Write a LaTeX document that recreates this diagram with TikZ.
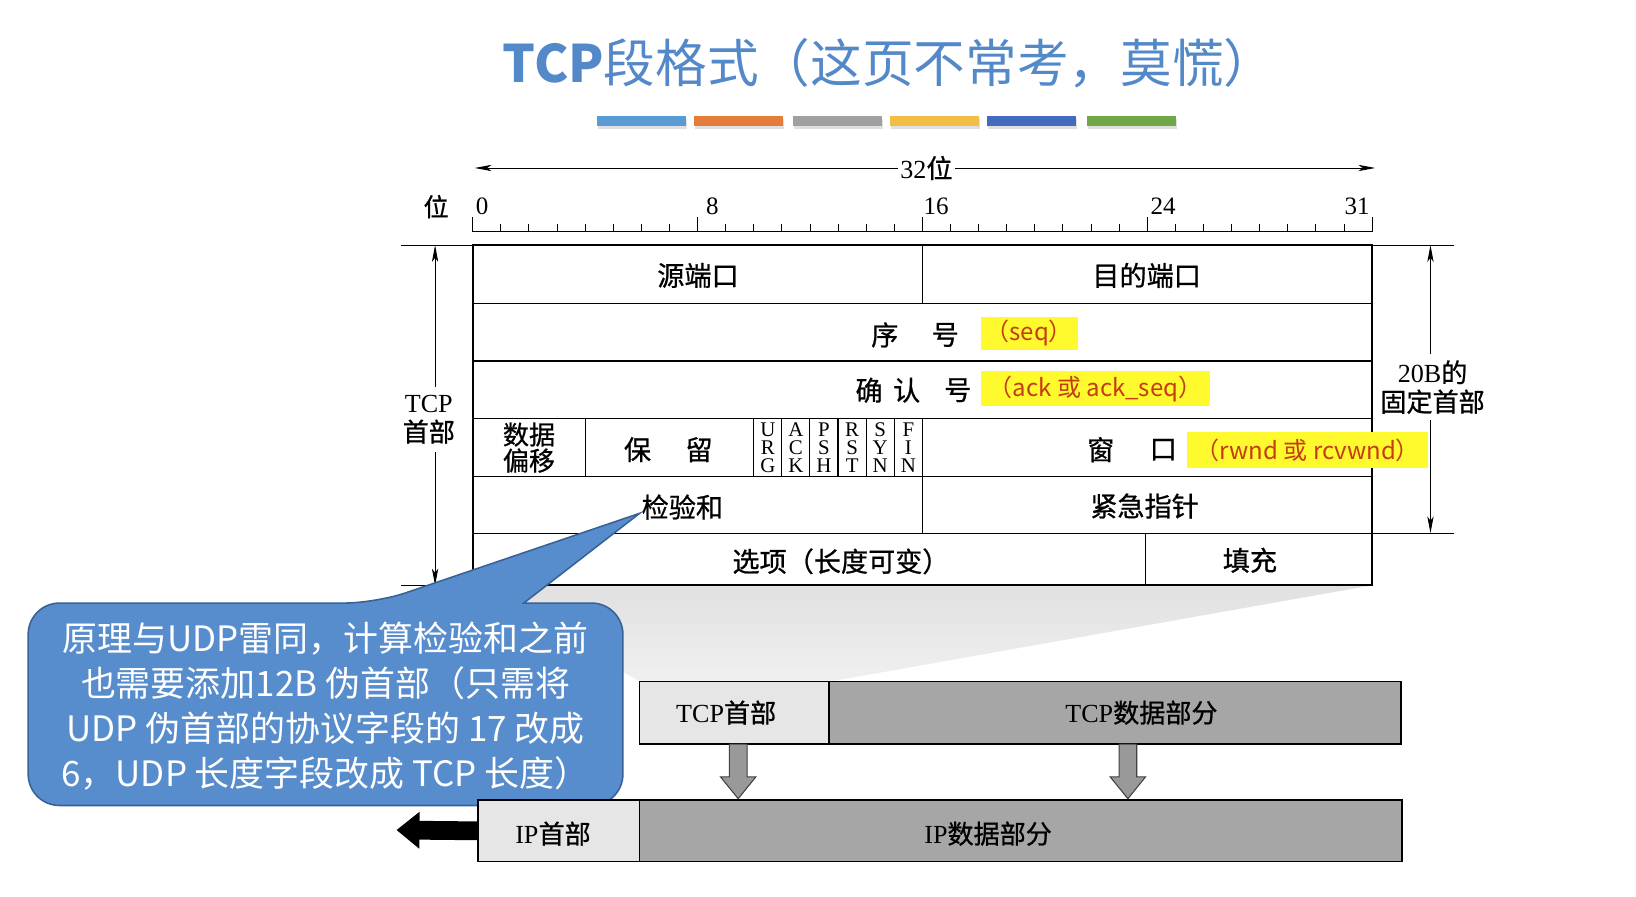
\documentclass[tikz,border=0pt]{standalone}
\usepackage{fontspec}
\setmainfont{Liberation Serif}
\newfontfamily\cjk{Noto Sans CJK SC}
\newfontfamily\cjkt{Noto Sans CJK SC}[FakeBold=0.8]
\usetikzlibrary{arrows.meta,calc}
\definecolor{titleblue}{RGB}{84,137,201}
\definecolor{callfill}{RGB}{88,141,205}
\definecolor{calldraw}{RGB}{56,98,150}
\definecolor{hlyellow}{RGB}{255,250,45}
\definecolor{hlred}{RGB}{196,60,20}
\definecolor{cellL}{RGB}{230,230,230}
\definecolor{cellD}{RGB}{166,166,166}
\definecolor{barA}{RGB}{91,155,213}
\definecolor{barB}{RGB}{229,124,58}
\definecolor{barC}{RGB}{160,160,160}
\definecolor{barD}{RGB}{242,190,69}
\definecolor{barE}{RGB}{68,108,190}
\definecolor{barF}{RGB}{112,168,72}
\newcommand\zh[1]{{\cjkt #1}}
\tikzset{
  tbl/.style={line width=1.1pt},
  outerbox/.style={line width=1.8pt},
  cj/.style={font=\cjkt\fontsize{26}{28}\selectfont, inner sep=0pt},
  lat/.style={font=\fontsize{24}{26}\selectfont, inner sep=0pt},
  flag/.style={font=\fontsize{20}{17.5}\selectfont, align=center, inner sep=0pt},
  hl/.style={fill=hlyellow, text=hlred, font=\cjk\fontsize{23}{25}\selectfont, inner sep=0pt},
  side/.style={font=\fontsize{25}{28}\selectfont, align=center, inner xsep=1pt},
  bracket/.style={line width=0.9pt, -{Stealth[length=16pt,width=6pt,inset=4pt]}},
  guide/.style={line width=0.8pt},
  cell/.style={draw=black, line width=1.6pt, inner sep=0pt, anchor=north west},
  btext/.style={font=\fontsize{25}{27}\selectfont, inner sep=0pt},
  garrow/.style={fill=black!40, draw=black!75, line width=1pt},
  callout/.style={fill=callfill, draw=calldraw, line width=1.5pt, rounded corners=30pt},
}
\begin{document}
\begin{tikzpicture}[x=1pt,y=-1pt]
\useasboundingbox (0,0) rectangle (1568,859);
\fill[white] (0,0) rectangle (1568,859);

% title
\node[font=\cjk\fontsize{49.5}{52}\selectfont, text=titleblue, inner sep=0pt] (title) at (852,61) {{\bfseries TCP}段格式（这页不常考，莫慌）};

% colour bars
\foreach \x/\c in {572/barA,665/barB,760/barC,853/barD,946/barE,1042/barF}{
  \fill[black!12] (\x+1,114) rectangle ++(85,10);
  \fill[\c] (\x,111) rectangle ++(85,10);
}

% 32 bit arrow
\coordinate (aL) at (455,161);
\coordinate (aR) at (1318,161);
\node[font=\fontsize{25}{27}\selectfont, inner sep=2pt] (w32) at (888,161) {32\zh{位}};
\draw[bracket] (w32) -- (aL);
\draw[bracket] (w32) -- (aR);

% ruler
\node[font=\cjkt\fontsize{24}{26}\selectfont, inner sep=0pt] (wei) at (418,198) {位};
\draw[guide] (453,222) -- (1315,222);
\foreach \i in {0,...,32}{
  \pgfmathsetmacro\h{mod(\i,8)==0 ? 14 : 7}
  \draw[guide] ({453+\i*26.9375},222) -- ++(0,-\h);
}
\node[lat, anchor=base west] (r0) at (456,206) {0};
\node[lat, anchor=base west] (r8) at (676.5,206) {8};
\node[lat, anchor=base west] (r16) at (885,206) {16};
\node[lat, anchor=base west] (r24) at (1102.5,206) {24};
\node[lat, anchor=base east] (r31) at (1313,206) {31};

% gray wedge
\shade[top color=gray!24, bottom color=gray!12] (453,561) -- (1315,561) -- (800,652.4) -- (612,652.4) -- cycle;

% header table
\draw[outerbox] (453,235) rectangle (1315,561);
\foreach \y in {291,346,401,457,511} \draw[tbl] (453,\y) -- (1315,\y);
\draw[tbl] (884,235) -- (884,291);
\draw[tbl] (884,457) -- (884,511);
\foreach \b in {4,10,11,12,13,14,15,16} \draw[tbl] ({453+\b*26.9375},401) -- ({453+\b*26.9375},457);
\draw[tbl] (1098,511) -- (1098,561);

\node[cj] (src) at (669,264) {源端口};
\node[cj] (dst) at (1099,264) {目的端口};
\node[cj] (seqA) at (848,321) {序};
\node[cj] (seqB) at (906,321) {号};
\node[cj] (ackA) at (833,374) {确};
\node[cj] (ackB) at (869,374) {认};
\node[cj] (ackC) at (918,374) {号};
\node[cj, align=center, font=\cjkt\fontsize{25}{25}\selectfont] (off) at (507,429) {数据\\偏移};
\node[cj] (resA) at (611,431) {保};
\node[cj] (resB) at (670,431) {留};
\node[flag] (fU) at (735.9,429) {U\\R\\G};
\node[flag] (fA) at (762.8,429) {A\\C\\K};
\node[flag] (fP) at (789.7,429) {P\\S\\H};
\node[flag] (fR) at (816.7,429) {R\\S\\T};
\node[flag] (fS) at (843.6,429) {S\\Y\\N};
\node[flag] (fF) at (870.6,429) {F\\I\\N};
\node[cj] (winA) at (1055,431) {窗};
\node[cj] (winB) at (1115,431) {口};
\node[cj] (chk) at (654,486) {检验和};
\node[cj] (urg) at (1097,485) {紧急指针};
\node[cj] (opt) at (806,538) {选项（长度可变）};
\node[cj] (pad) at (1198,537) {填充};

% highlights
\node[hl, minimum width=93pt, minimum height=32pt] (hseq) at (986.5,319.5) {（seq）};
\node[hl, minimum width=220pt, minimum height=33pt] (hack) at (1050,372.5) {（ack 或 ack\_seq）};
\node[hl, minimum width=231pt, minimum height=35pt] (hrw) at (1253.5,431.5) {（rwnd 或 rcvwnd）};

% left bracket
\draw[guide] (384,235) -- (453,235);
\draw[guide] (384,561) -- (453,561);
\coordinate (lt) at (417,235);
\coordinate (lb) at (417,561);
\node[side, inner ysep=8pt] (tcplab) at (411,402) {TCP\\\zh{首部}};
\draw[bracket] (tcplab.north -| lt) -- (lt);
\draw[bracket] (tcplab.south -| lb) -- (lb);

% right bracket
\draw[guide] (1315,235) -- (1394,235);
\draw[guide] (1315,511) -- (1394,511);
\coordinate (rt) at (1371,235);
\coordinate (rb) at (1371,511);
\node[side, inner ysep=6pt] (fixlab) at (1373,371) {20B\zh{的}\\\zh{固定首部}};
\draw[bracket] (fixlab.north -| rt) -- (rt);
\draw[bracket] (fixlab.south -| rb) -- (rb);

% callout
\filldraw[callout] (502,578) -- (597,578) -- (597,772) -- (27,772) -- (27,578) -- (360,578) [sharp corners] -- (613,492) -- cycle;
\node[font=\cjk\fontsize{33.5}{43}\selectfont, text=white, align=center, inner sep=0pt] (ctext) at (312,676.5)
  {原理与UDP雷同，计算检验和之前\\也需要添加12B 伪首部（只需将\\UDP 伪首部的协议字段的 17 改成\\6，UDP 长度字段改成 TCP 长度）};

% TCP segment
\node[cell, fill=cellL, minimum width=181.8pt, minimum height=60pt] (tcphd) at (612,652.4) {};
\node[cell, fill=cellD, minimum width=548.2pt, minimum height=60pt] (tcpdata) at (793.8,652.4) {};
\node[btext] (tcphdT) at (696,683) {TCP\zh{首部}};
\node[btext] (tcpdataT) at (1094,683) {TCP\zh{数据部分}};

% IP datagram
\node[cell, fill=cellL, minimum width=154.4pt, minimum height=59pt] (iphd) at (457.6,766) {};
\node[cell, fill=cellD, minimum width=731pt, minimum height=59pt] (ipdata) at (612,766) {};
\node[btext] (iphdT) at (530,799) {IP\zh{首部}};
\node[btext] (ipdataT) at (947,799) {IP\zh{数据部分}};

% gray arrows
\coordinate (g1s) at (707.5,713.2);
\coordinate (g1e) at (707.5,765.5);
\coordinate (g2s) at (1081,713.2);
\coordinate (g2e) at (1081,765.5);
\foreach \s/\e in {g1s/g1e,g2s/g2e}{
  \filldraw[garrow] ($(\s)+(-8.5,0)$) -- ($(\e)+(-8.5,-21)$) -- ($(\e)+(-17,-21)$) -- (\e)
    -- ($(\e)+(17,-21)$) -- ($(\e)+(8.5,-21)$) -- ($(\s)+(8.5,0)$) -- cycle;
}

% black arrow
\coordinate (blk) at (380,795.5);
\draw[line width=18pt, -{Triangle[length=22pt,width=34pt]}] (iphd.west) -- (blk);
\end{tikzpicture}
\end{document}
